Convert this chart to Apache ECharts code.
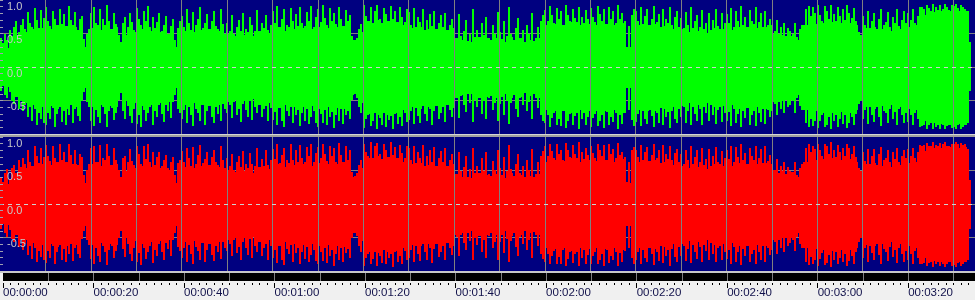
<!DOCTYPE html>
<html><head><meta charset="utf-8">
<script src="https://cdn.jsdelivr.net/npm/echarts@6/dist/echarts.min.js"></script>
<style>html,body{margin:0;padding:0;background:#f0f0f0;overflow:hidden}#c{width:975px;height:300px}</style>
</head><body><div id="c"></div>
<script>
// peak envelope: one sample every PEAK_SEC seconds; dense core: one sample every CORE_SEC seconds
// amplitudes are stored in hundredths of full scale
const PEAK_SEC = 0.5;
const CORE_SEC = 1;
const greenMax = [
44,36,50,40,55,47,60,68,52,63,71,57,82,66,59,88,70,58,85,73,
90,68,61,84,72,58,87,64,79,60,91,70,63,82,55,71,76,42,35,57,
80,89,66,59,86,71,62,92,68,57,81,64,48,38,65,74,60,80,67,55,
88,72,62,84,69,91,60,75,58,67,80,54,63,76,50,61,72,40,58,68,
76,60,86,66,55,82,63,71,89,58,65,79,52,68,83,61,56,87,64,50,
66,54,77,49,60,70,53,81,57,47,74,62,54,85,51,65,58,78,55,63,
84,65,91,59,71,86,63,56,88,68,79,61,90,66,57,82,69,91,60,74,
87,67,92,73,62,88,69,81,64,90,71,59,85,68,78,46,40,44,56,64,
92,76,69,90,66,84,93,72,64,88,79,68,91,71,83,65,89,74,67,86,
82,63,88,59,75,67,86,55,70,79,61,83,54,66,77,60,81,50,63,72,
58,42,79,47,53,70,39,50,86,45,55,40,66,48,75,43,38,62,49,82,
52,42,68,47,90,50,40,58,73,44,55,38,63,49,80,36,33,60,69,77,
85,69,91,77,66,88,72,83,63,92,78,68,86,73,67,90,75,62,85,71,
88,74,67,91,79,69,86,64,90,72,84,66,92,71,80,68,30,61,78,87,
83,68,90,64,76,87,62,71,91,67,79,59,86,72,65,89,63,74,84,60,
73,58,82,63,89,55,68,78,60,85,56,65,80,52,70,87,61,57,81,66,
79,65,88,60,83,68,91,63,74,58,85,69,64,89,67,80,59,84,62,71,
63,54,70,50,60,66,47,58,53,49,65,45,56,62,51,86,91,76,89,80,
92,78,69,91,84,72,93,79,67,90,76,86,70,92,81,73,88,68,52,46,
76,62,84,58,69,80,56,72,87,63,67,82,60,75,65,86,61,70,83,66,
80,70,86,66,76,90,89,86,93,88,84,94,90,85,93,87,94,89,85,92,
91,94,88,93,90,87,84,38];
const greenMin = [
-36,-28,-42,-47,-33,-50,-55,-44,-62,-51,-66,-57,-74,-60,-80,-63,-86,-68,-77,-83,
-87,-68,-78,-61,-89,-70,-59,-82,-65,-86,-72,-57,-84,-63,-73,-80,-50,-38,-43,-59,
-80,-88,-64,-75,-84,-60,-70,-90,-66,-61,-79,-68,-49,-39,-65,-77,-58,-73,-83,-63,
-85,-71,-90,-64,-80,-69,-60,-87,-66,-75,-57,-70,-82,-54,-65,-76,-52,-42,-62,-68,
-78,-64,-84,-59,-72,-88,-62,-68,-81,-56,-86,-66,-53,-74,-83,-60,-70,-80,-55,-63,
-68,-57,-76,-52,-71,-62,-82,-55,-64,-74,-50,-79,-60,-69,-53,-75,-63,-58,-81,-61,
-79,-67,-86,-61,-81,-90,-65,-73,-59,-84,-71,-64,-88,-69,-80,-62,-85,-74,-66,-83,
-89,-70,-83,-64,-87,-75,-67,-91,-72,-81,-63,-85,-71,-65,-78,-49,-41,-46,-60,-69,
-91,-78,-72,-88,-80,-69,-92,-76,-86,-67,-89,-79,-73,-93,-70,-85,-75,-88,-68,-82,
-79,-66,-85,-61,-73,-83,-58,-70,-81,-63,-87,-65,-55,-77,-69,-60,-82,-54,-64,-74,
-61,-47,-76,-44,-56,-67,-41,-53,-82,-49,-59,-43,-70,-51,-78,-46,-40,-64,-54,-81,
-55,-45,-71,-50,-85,-53,-42,-62,-75,-47,-57,-39,-66,-52,-78,-38,-35,-61,-72,-80,
-84,-72,-89,-76,-68,-87,-77,-88,-66,-91,-80,-70,-86,-73,-69,-92,-78,-65,-87,-74,
-89,-76,-70,-88,-81,-72,-91,-67,-86,-75,-82,-69,-92,-71,-85,-68,-31,-64,-79,-88,
-82,-70,-88,-66,-78,-85,-64,-73,-90,-69,-83,-61,-87,-75,-67,-91,-65,-77,-84,-62,
-75,-60,-83,-65,-87,-57,-70,-80,-62,-86,-59,-68,-81,-54,-72,-85,-64,-60,-82,-69,
-80,-67,-88,-62,-84,-70,-90,-65,-76,-60,-86,-72,-66,-88,-69,-82,-61,-85,-64,-74,
-66,-55,-72,-52,-63,-69,-49,-60,-56,-51,-68,-47,-58,-64,-53,-84,-90,-77,-88,-81,
-91,-80,-71,-90,-86,-74,-93,-81,-69,-89,-78,-85,-72,-91,-83,-75,-87,-70,-55,-48,
-78,-64,-85,-60,-71,-82,-58,-74,-88,-65,-69,-83,-62,-77,-67,-86,-63,-72,-84,-68,
-82,-72,-87,-68,-78,-89,-88,-86,-92,-87,-84,-93,-89,-85,-92,-87,-93,-88,-85,-91,
-90,-93,-87,-92,-89,-86,-83,-36];
const greenCoreMax = [
24,28,36,44,48,52,50,56,54,58, 60,57,62,58,61,55,59,54,30,50, 58,62,55,60,57,59,32,48,54,52,
60,56,58,54,57,52,55,50,30,48, 54,56,52,58,55,53,57,50,54,49, 50,47,53,48,52,46,50,54,48,51,
56,59,54,60,57,55,58,61,56,59, 60,62,58,63,59,61,57,40,36,52, 64,68,65,70,66,69,64,67,62,60,
58,55,60,54,57,52,56,53,55,50, 44,40,46,38,42,45,39,43,41,44, 42,38,45,40,43,37,41,39,44,50,
62,66,64,68,63,67,65,62,66,64, 66,63,67,64,68,62,65,66,30,58, 62,59,63,60,64,58,61,63,57,60,
56,52,58,54,57,51,55,58,53,56, 58,55,60,57,59,54,58,56,60,55, 50,46,48,44,47,40,42,62,66,64,
68,66,70,67,69,65,68,66,62,48, 58,55,60,57,56,59,54,58,57,56, 60,62,66,78,80,82,84,83,85,84,
85,83,84,30];
const greenCoreMin = [
-26,-30,-38,-45,-50,-53,-52,-57,-55,-60, -62,-58,-63,-60,-62,-57,-60,-55,-32,-52, -60,-63,-57,-61,-58,-60,-34,-50,-56,-54,
-62,-58,-60,-56,-58,-54,-57,-52,-32,-50, -56,-58,-54,-60,-57,-55,-58,-52,-56,-51, -52,-49,-55,-50,-54,-48,-52,-56,-50,-53,
-58,-61,-56,-62,-59,-57,-60,-63,-58,-61, -62,-64,-60,-65,-61,-63,-59,-42,-38,-54, -66,-70,-67,-72,-68,-71,-66,-69,-64,-62,
-60,-57,-62,-56,-59,-54,-58,-55,-57,-52, -46,-42,-48,-40,-44,-47,-41,-45,-43,-46, -44,-40,-47,-42,-45,-39,-43,-41,-46,-52,
-64,-68,-66,-70,-65,-69,-67,-64,-68,-66, -68,-65,-69,-66,-70,-64,-67,-68,-32,-60, -64,-61,-65,-62,-66,-60,-63,-65,-59,-62,
-58,-54,-60,-56,-59,-53,-57,-60,-55,-58, -60,-57,-62,-59,-61,-56,-60,-58,-62,-57, -52,-48,-50,-46,-49,-42,-44,-64,-68,-66,
-70,-68,-72,-69,-71,-67,-70,-68,-64,-50, -60,-57,-62,-59,-58,-61,-56,-60,-59,-58, -62,-64,-68,-80,-82,-84,-86,-85,-87,-86,
-87,-85,-86,-32];
const redMax = [
40,33,47,52,38,54,58,46,65,55,69,60,80,63,57,86,72,61,83,70,
88,71,64,86,69,60,89,66,77,62,90,73,60,80,58,74,70,44,37,60,
83,87,63,61,88,69,65,90,71,55,84,66,51,41,68,72,62,82,64,58,
86,74,60,87,67,89,63,77,56,70,78,57,65,73,53,63,70,43,61,66,
79,62,84,68,57,85,60,73,88,61,67,77,55,70,81,63,58,86,66,53,
68,56,75,51,62,72,55,79,59,49,76,60,57,83,53,67,56,80,58,65,
82,67,89,61,73,84,65,58,90,66,81,63,88,68,59,85,71,89,62,76,
85,69,90,75,64,86,71,83,62,91,73,61,87,66,80,48,42,46,58,66,
90,78,71,92,68,86,91,74,66,89,81,70,93,73,85,67,88,76,69,87,
84,65,86,61,77,69,88,57,72,81,63,85,56,68,79,62,83,52,65,74,
60,44,77,49,55,72,41,52,84,47,57,42,68,50,77,45,40,64,51,80,
54,44,70,49,88,52,42,60,75,46,57,40,65,51,82,38,35,62,71,79,
87,71,89,79,68,90,74,81,65,91,80,70,88,75,69,92,77,64,83,73,
86,76,69,90,81,71,88,66,89,74,82,68,91,73,78,70,33,63,80,85,
81,70,88,66,78,85,64,73,90,69,81,61,88,74,67,87,65,76,82,62,
75,60,80,65,87,57,70,80,62,83,58,67,82,54,72,85,63,59,79,68,
81,67,86,62,85,70,89,65,76,60,83,71,66,87,69,82,61,86,64,73,
60,51,67,47,57,63,45,55,50,46,62,43,54,60,49,84,89,78,87,82,
90,80,71,89,86,74,92,81,69,88,78,84,72,90,83,75,86,70,54,48,
78,64,82,60,71,82,58,74,85,65,69,80,62,77,67,84,63,72,81,68,
82,72,84,68,78,88,87,88,91,86,86,92,88,87,91,89,92,87,87,90,
89,92,90,91,88,89,82,36];
const redMin = [
-38,-30,-44,-49,-35,-52,-57,-46,-64,-53,-68,-59,-76,-62,-82,-65,-87,-70,-79,-84,
-88,-70,-80,-63,-90,-72,-61,-84,-67,-87,-74,-59,-85,-65,-75,-81,-52,-40,-45,-61,
-82,-89,-66,-77,-86,-62,-72,-91,-68,-63,-81,-70,-51,-41,-67,-79,-60,-75,-85,-65,
-86,-73,-91,-66,-82,-71,-62,-88,-68,-77,-59,-72,-84,-56,-67,-78,-54,-44,-64,-70,
-80,-66,-86,-61,-74,-89,-64,-70,-83,-58,-87,-68,-55,-76,-85,-62,-72,-82,-57,-65,
-70,-59,-78,-54,-73,-64,-84,-57,-66,-76,-52,-81,-62,-71,-55,-77,-65,-60,-83,-63,
-81,-69,-88,-63,-83,-91,-67,-75,-61,-86,-73,-66,-89,-71,-82,-64,-87,-76,-68,-85,
-90,-72,-85,-66,-88,-77,-69,-92,-74,-83,-65,-87,-73,-67,-80,-51,-43,-48,-62,-71,
-92,-80,-74,-90,-82,-71,-93,-78,-88,-69,-90,-81,-75,-94,-72,-87,-77,-89,-70,-84,
-81,-68,-87,-63,-75,-85,-60,-72,-83,-65,-88,-67,-57,-79,-71,-62,-84,-56,-66,-76,
-63,-49,-78,-46,-58,-69,-43,-55,-84,-51,-61,-45,-72,-53,-80,-48,-42,-66,-56,-83,
-57,-47,-73,-52,-87,-55,-44,-64,-77,-49,-59,-41,-68,-54,-80,-40,-37,-63,-74,-82,
-86,-74,-90,-78,-70,-89,-79,-90,-68,-92,-82,-72,-88,-75,-71,-93,-80,-67,-89,-76,
-90,-78,-72,-89,-83,-74,-92,-69,-88,-77,-84,-71,-93,-73,-87,-70,-33,-66,-81,-89,
-84,-72,-89,-68,-80,-87,-66,-75,-91,-71,-85,-63,-88,-77,-69,-92,-67,-79,-86,-64,
-77,-62,-85,-67,-88,-59,-72,-82,-64,-87,-61,-70,-83,-56,-74,-86,-66,-62,-84,-71,
-82,-69,-89,-64,-86,-72,-91,-67,-78,-62,-87,-74,-68,-89,-71,-84,-63,-87,-66,-76,
-68,-57,-74,-54,-65,-71,-51,-62,-58,-53,-70,-49,-60,-66,-55,-86,-91,-79,-89,-83,
-92,-82,-73,-91,-88,-76,-94,-83,-71,-90,-80,-87,-74,-92,-85,-77,-89,-72,-57,-50,
-80,-66,-87,-62,-73,-84,-60,-76,-89,-67,-71,-85,-64,-79,-69,-88,-65,-74,-86,-70,
-84,-74,-89,-70,-80,-90,-89,-88,-93,-88,-86,-94,-90,-87,-93,-89,-94,-90,-87,-92,
-91,-94,-88,-93,-90,-87,-84,-38];
const redCoreMax = [
26,30,38,45,49,53,51,57,55,59, 61,58,63,59,62,56,60,55,32,51, 59,63,56,61,58,60,34,49,55,53,
61,57,59,55,58,53,56,51,31,49, 55,57,53,59,56,54,58,51,55,50, 51,48,54,49,53,47,51,55,49,52,
57,60,55,61,58,56,59,62,57,60, 61,63,59,64,60,62,58,41,37,53, 65,69,66,71,67,70,65,68,63,61,
59,56,61,55,58,53,57,54,56,51, 45,41,47,39,43,46,40,44,42,45, 43,39,46,41,44,38,42,40,45,51,
63,67,65,69,64,68,66,63,67,65, 67,64,68,65,69,63,66,67,31,59, 63,60,64,61,65,59,62,64,58,61,
57,53,59,55,58,52,56,59,54,57, 59,56,61,58,60,55,59,57,61,56, 51,47,49,45,48,41,43,63,67,65,
69,67,71,68,70,66,69,67,63,49, 59,56,61,58,57,60,55,59,58,57, 61,63,67,79,81,83,85,84,86,85,
86,84,85,31];
const redCoreMin = [
-27,-31,-39,-46,-51,-54,-53,-58,-56,-61, -63,-59,-64,-61,-63,-58,-61,-56,-33,-53, -61,-64,-58,-62,-59,-61,-35,-51,-57,-55,
-63,-59,-61,-57,-59,-55,-58,-53,-33,-51, -57,-59,-55,-61,-58,-56,-59,-53,-57,-52, -53,-50,-56,-51,-55,-49,-53,-57,-51,-54,
-59,-62,-57,-63,-60,-58,-61,-64,-59,-62, -63,-65,-61,-66,-62,-64,-60,-43,-39,-55, -67,-71,-68,-73,-69,-72,-67,-70,-65,-63,
-61,-58,-63,-57,-60,-55,-59,-56,-58,-53, -47,-43,-49,-41,-45,-48,-42,-46,-44,-47, -45,-41,-48,-43,-46,-40,-44,-42,-47,-53,
-65,-69,-67,-71,-66,-70,-68,-65,-69,-67, -69,-66,-70,-67,-71,-65,-68,-69,-33,-61, -65,-62,-66,-63,-67,-61,-64,-66,-60,-63,
-59,-55,-61,-57,-60,-54,-58,-61,-56,-59, -61,-58,-63,-60,-62,-57,-61,-59,-63,-58, -53,-49,-51,-47,-50,-43,-45,-65,-69,-67,
-71,-69,-73,-70,-72,-68,-71,-69,-65,-51, -61,-58,-63,-60,-59,-62,-57,-61,-60,-59, -63,-65,-69,-81,-83,-85,-87,-86,-88,-87,
-88,-86,-87,-33];
const timeTickLabels = ['00:00:00','00:00:20','00:00:40','00:01:00','00:01:20','00:01:40','00:02:00','00:02:20','00:02:40','00:03:00','00:03:20'];
const yTickValues = [1, 0.5, 0, -0.5];
const yTickLabels = ['1.0', '0.5', '0.0', '-0.5'];

const X_MAX = 214.76;
const chart = echarts.init(document.getElementById('c'), null, {renderer: 'canvas'});

function toData(hi, lo, step) {
  const n = Math.min(hi.length, lo.length), out = [];
  for (let i = 0; i < n; i++) out.push([i * step, hi[i] / 100, lo[i] / 100]);
  return out;
}
// gap: leave one blue column at the end of wider slots so neighbouring peaks stay separate
function waveRender(color, step, gap) {
  return function (params, api) {
    const t = api.value(0);
    const a = api.coord([t, api.value(1)]);
    const b = api.coord([t, api.value(2)]);
    const x0 = Math.floor(a[0]);
    const x1 = Math.floor(api.coord([t + step, 0])[0]);
    const slot = x1 - x0;
    const w = (gap && slot >= 3) ? slot - 1 : slot;
    const y0 = Math.round(a[1]), y1 = Math.round(b[1]);
    return {type: 'rect', shape: {x: x0, y: y0, width: Math.max(1, w), height: y1 - y0}, style: {fill: color}};
  };
}
function yLabel(v) {
  for (let i = 0; i < yTickValues.length; i++) if (Math.abs(v - yTickValues[i]) < 1e-6) return yTickLabels[i];
  return '';
}
function timeLabel(v) {
  const i = Math.round(v / 20);
  return (Math.abs(v - i * 20) < 1e-6 && timeTickLabels[i]) ? timeTickLabels[i] : '';
}
const grids = [
  {left: 0, top: 0, width: 975, height: 134, show: true, backgroundColor: '#000080', borderWidth: 0},
  {left: 0, top: 137, width: 975, height: 134, show: true, backgroundColor: '#000080', borderWidth: 0},
  {left: 0, top: 273, width: 975, height: 8, show: true, backgroundColor: '#000000', borderWidth: 0}
];
const hidden = {axisLine: {show: false}, axisTick: {show: false}, axisLabel: {show: false}};
const xAxes = [], yAxes = [];
[0, 1].forEach(g => {
  xAxes.push(Object.assign({gridIndex: g, type: 'value', min: 0, max: X_MAX, interval: 10, position: 'bottom', z: 3,
    splitLine: {show: true, showMinLine: false, showMaxLine: false, lineStyle: {color: '#808080', width: 1}}}, hidden));
  yAxes.push(Object.assign({gridIndex: g, type: 'value', min: -1, max: 1, interval: 0.5, position: 'left', z: 0,
    splitLine: {show: true, showMinLine: false, showMaxLine: false, lineStyle: {color: '#808080', width: 1}}}, hidden));
  yAxes.push({gridIndex: g, type: 'value', min: -1, max: 1, interval: 0.5, position: 'left', z: 5,
    axisLine: {show: false},
    axisTick: {show: true, inside: true, length: 3, lineStyle: {color: '#a0a0b0'}},
    minorTick: {show: true, splitNumber: 5, length: 3, lineStyle: {color: '#a0a0b0'}},
    axisLabel: {show: true, inside: true, margin: 7, color: '#c8c8c8', fontSize: 11, fontFamily: 'Liberation Sans',
      verticalAlign: 'top', padding: [1, 0, 0, 0], showMinLabel: false, showMaxLabel: true, formatter: yLabel},
    splitLine: {show: false}});
  yAxes.push(Object.assign({gridIndex: g, type: 'value', min: -1, max: 1, interval: 1, position: 'left', z: 5,
    splitLine: {show: true, showMinLine: false, showMaxLine: false, lineStyle: {color: '#d0d0d0', width: 1, type: [4, 4]}}}, hidden));
});
xAxes.push(Object.assign({gridIndex: 2, type: 'value', min: 0, max: X_MAX, interval: 10, position: 'top', z: 3,
  splitLine: {show: true, showMinLine: false, showMaxLine: false, lineStyle: {color: '#808080', width: 1}}}, hidden));
xAxes.push({gridIndex: 2, type: 'value', min: 0, max: X_MAX, interval: 20, position: 'bottom', offset: 2, z: 3,
  axisLine: {show: false},
  axisTick: {show: true, length: 5, lineStyle: {color: '#000000', width: 1}},
  axisLabel: {show: true, margin: 4, align: 'left', color: '#10104a', fontSize: 11.5, fontFamily: 'Liberation Sans',
    showMinLabel: true, showMaxLabel: false, formatter: timeLabel},
  splitLine: {show: false}});
xAxes.push({gridIndex: 2, type: 'value', min: 0, max: X_MAX, interval: 10 / 6, position: 'bottom', offset: 2, z: 3,
  axisLine: {show: false}, axisLabel: {show: false},
  axisTick: {show: true, length: 2, lineStyle: {color: '#000000', width: 1}},
  splitLine: {show: false}});
yAxes.push({gridIndex: 2, type: 'value', min: 0, max: 1, show: false});

chart.setOption({
  animation: false,
  backgroundColor: '#f0f0f0',
  grid: grids,
  xAxis: xAxes,
  yAxis: yAxes,
  graphic: [
    {type: 'rect', shape: {x: 0, y: 134, width: 975, height: 3}, style: {fill: '#a0a0a0'}, z: 10},
    {type: 'rect', shape: {x: 0, y: 134, width: 975, height: 1}, style: {fill: '#d4d4d4'}, z: 11},
    {type: 'rect', shape: {x: 0, y: 271, width: 975, height: 2}, style: {fill: '#c8c8c8'}, z: 10}
  ],
  series: [
    {type: 'custom', name: 'L peak', xAxisIndex: 0, yAxisIndex: 0, z: 2, renderItem: waveRender('#00ff00', PEAK_SEC, true),
      encode: {x: 0, y: [1, 2]}, data: toData(greenMax, greenMin, PEAK_SEC)},
    {type: 'custom', name: 'L core', xAxisIndex: 0, yAxisIndex: 0, z: 2, renderItem: waveRender('#00ff00', CORE_SEC, false),
      encode: {x: 0, y: [1, 2]}, data: toData(greenCoreMax, greenCoreMin, CORE_SEC)},
    {type: 'custom', name: 'R peak', xAxisIndex: 1, yAxisIndex: 3, z: 2, renderItem: waveRender('#ff0000', PEAK_SEC, true),
      encode: {x: 0, y: [1, 2]}, data: toData(redMax, redMin, PEAK_SEC)},
    {type: 'custom', name: 'R core', xAxisIndex: 1, yAxisIndex: 3, z: 2, renderItem: waveRender('#ff0000', CORE_SEC, false),
      encode: {x: 0, y: [1, 2]}, data: toData(redCoreMax, redCoreMin, CORE_SEC)}
  ]
});
</script></body></html>
